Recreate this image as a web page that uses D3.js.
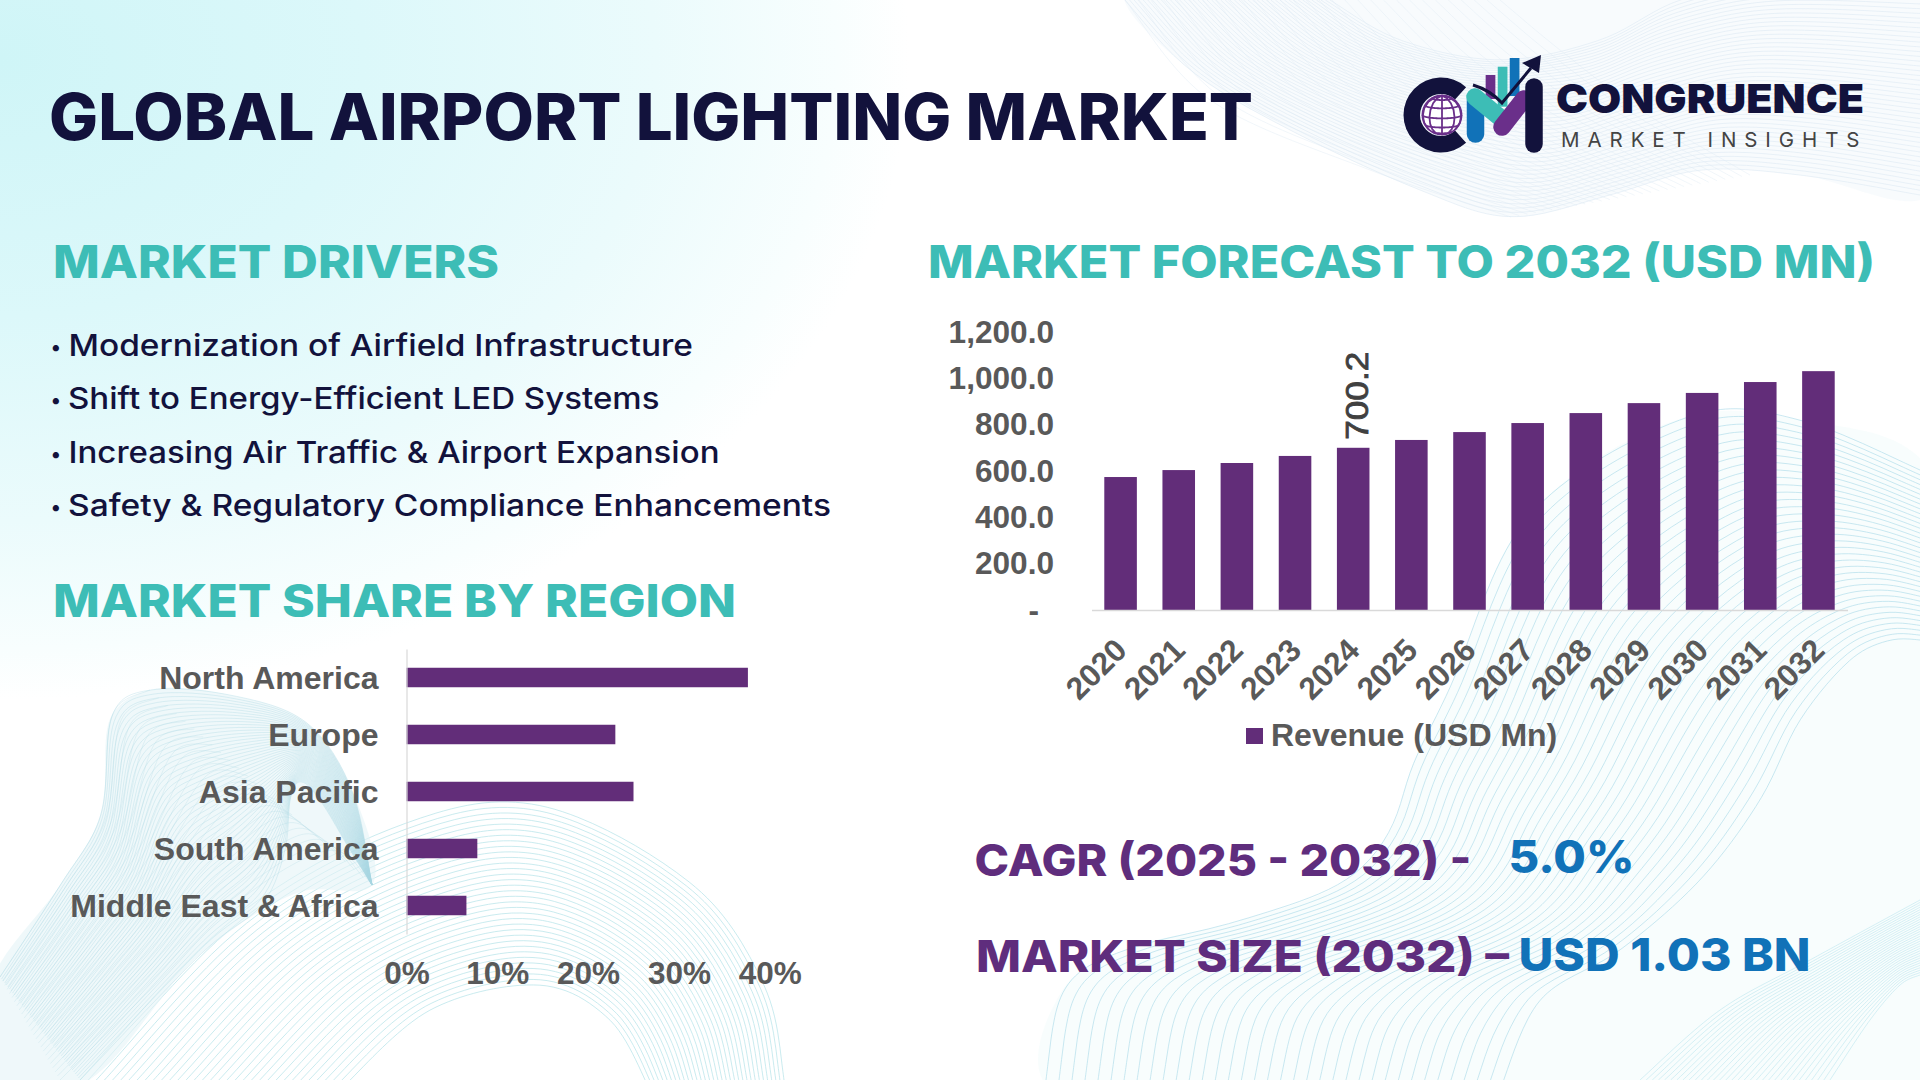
<!DOCTYPE html>
<html>
<head>
<meta charset="utf-8">
<script src="https://cdn.jsdelivr.net/npm/d3@7"></script>
<style>
html,body{margin:0;padding:0;background:#fff;overflow:hidden}
svg{display:block}
text{font-family:Inter,sans-serif}
.arial text,text.arial{font-family:"Liberation Sans",Arial,sans-serif;font-weight:700;fill:#595959}
</style>
</head>
<body>
<svg id="c" width="1920" height="1080" viewBox="0 0 1920 1080"></svg>
<script>
// ---- data ----
const forecastYears = ["2020","2021","2022","2023","2024","2025","2026","2027","2028","2029","2030","2031","2032"];
const forecastRevenue = [574,604,634.5,665,700.2,734,768,807,850,893,937,984,1031];
const forecastTicks = [0,200,400,600,800,1000,1200];
const labelledYear = "2024";
const regions = ["North America","Europe","Asia Pacific","South America","Middle East & Africa"];
const regionShare = [37.6,23,25,7.8,6.6];
const shareTicks = [0,10,20,30,40];
const drivers = ["Modernization of Airfield Infrastructure","Shift to Energy-Efficient LED Systems","Increasing Air Traffic & Airport Expansion","Safety & Regulatory Compliance Enhancements"];

const NAVY="#12123c", TEAL="#3dbdb6", PURPLE="#622d79", BLUE="#1172b8";
const svg=d3.select("#c");
const defs=svg.append("defs");

// ---- background ----
svg.append("rect").attr("width",1920).attr("height",1080).attr("fill","#fff");
const grad=defs.append("radialGradient").attr("id","glow").attr("gradientUnits","userSpaceOnUse")
  .attr("cx",0).attr("cy",60).attr("r",1)
  .attr("gradientTransform","translate(0 60) scale(910 640) translate(0 -60)");
[[0,"#cff5f7"],[.4,"#dcf8fa"],[.72,"#ebfbfc"],[.92,"#f8fefe"],[1,"#ffffff"]].forEach(s=>grad.append("stop").attr("offset",s[0]).attr("stop-color",s[1]));
svg.append("rect").attr("width",1920).attr("height",1080).attr("fill","url(#glow)");

function smooth(pts){
  const out=[],P=i=>pts[Math.max(0,Math.min(pts.length-1,i))];
  for(let i=0;i<pts.length-1;i++){
    for(let s=0;s<10;s++){
      const t=s/10,t2=t*t,t3=t2*t;
      out.push([0,1].map(c=>.5*(2*P(i)[c]+(P(i+1)[c]-P(i-1)[c])*t+(2*P(i-1)[c]-5*P(i)[c]+4*P(i+1)[c]-P(i+2)[c])*t2+(3*P(i)[c]-P(i-1)[c]-3*P(i+1)[c]+P(i+2)[c])*t3)));
    }
  }
  out.push(pts[pts.length-1]);
  return out;
}
function resample(raw,n){
  const pts=smooth(raw);
  const line=d3.range(pts.length-1).map(i=>Math.hypot(pts[i+1][0]-pts[i][0],pts[i+1][1]-pts[i][1]));
  const tot=d3.sum(line),out=[];
  for(let k=0;k<n;k++){
    let d=tot*k/(n-1),i=0;
    while(i<line.length-1&&d>line[i]){d-=line[i];i++;}
    const t=Math.min(1,d/(line[i]||1));
    out.push([pts[i][0]+(pts[i+1][0]-pts[i][0])*t,pts[i][1]+(pts[i+1][1]-pts[i][1])*t]);
  }
  return out;
}
const meshLine=d3.line().curve(d3.curveBasis);
function ribbon(pts,fill,opacity){
  svg.append("path").attr("d",d3.line().curve(d3.curveCatmullRomClosed)(pts)).attr("fill",fill).attr("fill-opacity",opacity);
}
function mesh(a,b,count,color,opacity,width){
  const A=resample(a,60),B=resample(b,60),g=svg.append("g").attr("fill","none").attr("stroke",color).attr("stroke-opacity",opacity).attr("stroke-width",width);
  d3.range(count).forEach(i=>{
    const t=i/(count-1);
    g.append("path").attr("d",meshLine(A.map((p,k)=>[p[0]+(B[k][0]-p[0])*t,p[1]+(B[k][1]-p[1])*t])));
  });
}
// top right ribbon
ribbon([[1125,-10],[1190,70],[1290,130],[1420,190],[1511,217],[1610,195],[1700,170],[1800,175],[1930,195],[1930,-10]],"#f0f6fa",.45);
mesh([[1125,0],[1190,70],[1290,130],[1420,190],[1511,217],[1610,195],[1700,170],[1800,175],[1920,195]],
     [[1330,0],[1400,40],[1500,60],[1600,40],[1680,0],[1780,-20],[1920,-20]],46,"#dbe8f3",.55,1);
mesh([[1125,0],[1210,100],[1370,170],[1511,217]],[[1500,0],[1560,50],[1640,110],[1750,175]],30,"#dfeaf4",.45,1);
// bottom centre dome
mesh([[80,1080],[233,919],[398,826],[539,805],[692,884],[765,987],[784,1080]],
     [[340,1090],[430,1010],[539,985],[610,1020],[650,1090]],34,"#b4e2e8",.7,1);
// bottom left ribbon
ribbon([[-10,985],[61,884],[101,815],[112,715],[150,690],[230,695],[306,722],[352,790],[372,885],[300,892],[202,953],[80,1085],[-10,1085]],"#e4f3f6",.6);
mesh([[0,977],[61,884],[101,815],[112,715],[150,690],[230,695],[306,722],[352,790],[372,885]],
     [[80,1080],[202,953],[262,905],[285,850],[290,800],[300,780],[320,800],[350,850],[372,885]],52,"#a8d6e2",.34,1);
mesh([[0,977],[61,884],[101,815],[112,715],[150,690]],[[60,1080],[150,990],[240,900],[330,850],[372,885]],26,"#b2dae5",.3,1);
// right large ribbon
ribbon([[1046,1085],[1064,988],[1125,950],[1235,922],[1340,884],[1389,833],[1413,764],[1450,688],[1530,514],[1690,416],[1800,420],[1930,470],[1930,1085]],"#f4fbfc",.6);
mesh([[1046,1080],[1064,988],[1125,950],[1235,922],[1340,884],[1389,833],[1413,764],[1450,688],[1530,514],[1690,416],[1800,420],[1920,470]],
     [[1500,1090],[1540,1000],[1620,950],[1700,880],[1760,800],[1800,720],[1850,660],[1890,640],[1920,640]],36,"#aedcea",.65,1);
mesh([[1640,1080],[1720,1010],[1810,960],[1920,900]],[[1830,1080],[1870,1020],[1900,985],[1920,975]],32,"#bce6ef",.6,1);

// ---- headings ----
function label(x,y,text,size,weight,fill,len,adjust){
  const t=svg.append("text").attr("x",x).attr("y",y).attr("font-size",size).attr("font-weight",weight).attr("fill",fill).text(text);
  if(len)t.attr("textLength",len).attr("lengthAdjust",adjust||"spacingAndGlyphs");
  return t;
}
label(49,139.5,"GLOBAL AIRPORT LIGHTING MARKET",64,800,NAVY,1204);
label(53,277.5,"MARKET DRIVERS",45,800,TEAL,446);
label(928,277.5,"MARKET FORECAST TO 2032 (USD MN)",45,800,TEAL,947);
label(53,616.5,"MARKET SHARE BY REGION",45,800,TEAL,683);

// ---- drivers ----
const driverLen=[624.5,591.5,651,763];
const driverX=[68.5,68,68.5,68];
const driverY=[356,408.7,462.5,515.5];
drivers.forEach((d,i)=>{
  label(50.5,driverY[i]-2,"•",20,500,NAVY);
  label(driverX[i],driverY[i],d,30,500,NAVY,driverLen[i]);
});

// ---- forecast chart ----
const fx=d3.scaleBand().domain(forecastYears).range([1091.5,1847.5]).paddingInner(.44).paddingOuter(.22);
const fy=d3.scaleLinear().domain([0,1200]).range([610,332]);
const fg=svg.append("g");
fg.append("g").selectAll("rect").data(forecastYears).join("rect")
  .attr("x",d=>fx(d)).attr("width",fx.bandwidth())
  .attr("y",(d,i)=>fy(forecastRevenue[i])).attr("height",(d,i)=>fy(0)-fy(forecastRevenue[i]))
  .attr("fill",PURPLE);
const fxAxis=fg.append("g").attr("class","arial").attr("transform","translate(0,610)")
  .call(d3.axisBottom(fx).tickSize(0));
fxAxis.select(".domain").attr("stroke","#d9d9d9").attr("stroke-width",1.5);
fxAxis.selectAll("text").attr("font-size",31.5).attr("text-anchor","middle")
  .attr("y",0).attr("dy",".35em").attr("transform","translate(-24.5,59) rotate(-45)");
const fyAxis=fg.append("g").attr("class","arial").attr("transform","translate(1054,0)")
  .call(d3.axisLeft(fy).tickValues(forecastTicks).tickSize(0).tickPadding(0)
    .tickFormat(v=>v===0?"-":d3.format(",.1f")(v)));
fyAxis.select(".domain").remove();
fyAxis.selectAll("text").attr("font-size",31.6).attr("dx",v=>v===0?-15:0);
// data label
const li=forecastYears.indexOf(labelledYear);
svg.append("text").style("font-family",'"Liberation Sans",Arial,sans-serif')
  .attr("transform",`translate(${fx(labelledYear)+fx.bandwidth()/2+14.5},${fy(forecastRevenue[li])-8}) rotate(-90)`)
  .attr("font-size",31).attr("fill","#404040").attr("stroke","#404040").attr("stroke-width",.8)
  .attr("textLength",88).attr("lengthAdjust","spacingAndGlyphs")
  .text(forecastRevenue[li].toFixed(1));
// legend
svg.append("rect").attr("x",1246).attr("y",728).attr("width",17).attr("height",16).attr("fill",PURPLE);
svg.append("text").attr("class","arial").attr("x",1271).attr("y",745.5).attr("font-size",32).text("Revenue (USD Mn)");

// ---- region chart ----
const rx=d3.scaleLinear().domain([0,40]).range([406.5,769.7]);
const ry=d3.scaleBand().domain(regions).range([649,934]).paddingInner(.658).paddingOuter(.329);
const rg=svg.append("g");
rg.append("g").selectAll("rect").data(regions).join("rect")
  .attr("x",rx(0)).attr("y",d=>ry(d)).attr("height",ry.bandwidth())
  .attr("width",(d,i)=>rx(regionShare[i])-rx(0)).attr("fill",PURPLE);
const ryAxis=rg.append("g").attr("class","arial").attr("transform","translate(406.5,0)")
  .call(d3.axisLeft(ry).tickSize(0).tickPadding(28));
ryAxis.select(".domain").attr("stroke","#d9d9d9").attr("stroke-width",1.2);
ryAxis.selectAll("text").attr("font-size",32).attr("dy",".37em");
const rxAxis=rg.append("g").attr("class","arial").attr("transform","translate(0,972)")
  .call(d3.axisBottom(rx).tickValues(shareTicks).tickSize(0).tickPadding(0).tickFormat(v=>v+"%"));
rxAxis.select(".domain").remove();
rxAxis.selectAll("text").attr("font-size",31.5).attr("y",0).attr("dy",".37em");

// ---- key figures ----
label(974.5,875.5,"CAGR (2025 - 2032) -",44,800,"#5f2d7d",497);
label(1508.5,873,"5.0%",45,800,BLUE,126);
label(976,971.5,"MARKET SIZE (2032) –",44,800,"#5f2d7d",533);
label(1518.5,971,"USD 1.03 BN",45,800,BLUE,292);

// ---- logo ----
const logo=svg.append("g");
logo.append("path").attr("transform","translate(1441,115)").attr("fill",NAVY)
  .attr("d",d3.arc().innerRadius(21).outerRadius(37.5).startAngle(138*Math.PI/180).endAngle(402*Math.PI/180)());
const globe=d3.geoOrthographic().scale(19.5).translate([1442,115]).rotate([0,-10]);
const gp=d3.geoPath(globe);
logo.append("path").attr("d",gp({type:"Sphere"})).attr("fill","#fff").attr("stroke","#6a2f8a").attr("stroke-width",1.8);
logo.append("path").attr("d",gp(d3.geoGraticule().step([40,30])())).attr("fill","none").attr("stroke","#6a2f8a").attr("stroke-width",1.8);
[[1490.5,75,9.7,24,"#6a2f8a"],[1502.6,66.7,9.7,40,TEAL],[1514.6,58,9.7,38,BLUE]].forEach(b=>
  logo.append("rect").attr("x",b[0]-4.85).attr("y",b[1]).attr("width",b[2]).attr("height",b[3]).attr("fill",b[4]));
const pill=(x1,y1,x2,y2,c)=>logo.append("line").attr("x1",x1).attr("y1",y1).attr("x2",x2).attr("y2",y2).attr("stroke",c).attr("stroke-width",17.5).attr("stroke-linecap","round");
pill(1475.5,100,1475.5,134,BLUE);
pill(1475,97,1503,120,TEAL);
pill(1502,127,1524,99,"#6a2f8a");
pill(1534,87,1534,144,NAVY);
logo.append("path").attr("d","M1473,85 Q1490,90 1502,103 L1531,68").attr("fill","none").attr("stroke",NAVY).attr("stroke-width",3);
logo.append("path").attr("d","M1522,63 L1541,55 L1539,73 Z").attr("fill",NAVY);
label(1556,112.7,"CONGRUENCE",40,900,NAVY,308);
label(1561,146.7,"MARKET INSIGHTS",20.5,400,"#444444",298.5,"spacing");
</script>
</body>
</html>
